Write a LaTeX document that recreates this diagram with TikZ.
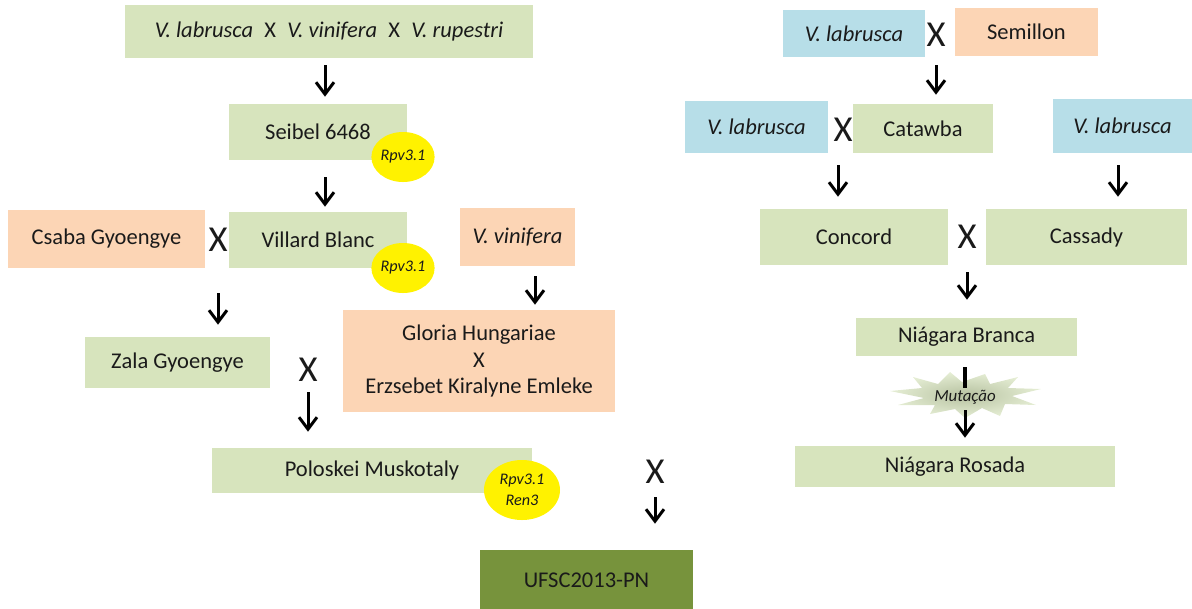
\documentclass[tikz,border=0pt]{standalone}
\usepackage{fontspec}
\setmainfont{Carlito}
\usepackage{tikz}
\usetikzlibrary{arrows.meta,shapes.geometric}
\definecolor{grn}{HTML}{D7E4BD}
\definecolor{peach}{HTML}{FCD5B5}
\definecolor{blu}{HTML}{B7DEE8}
\definecolor{dkgrn}{HTML}{77933C}
\definecolor{ink}{HTML}{1A1A1A}
\tikzset{
	box/.style={inner sep=0pt, text=ink, font=\fontsize{16}{19}\selectfont, align=center},
	gbox/.style={box, fill=grn},
	obox/.style={box, fill=peach},
	bbox/.style={box, fill=blu},
	gene/.style={ellipse, fill=yellow, inner sep=0pt, text=ink, font=\fontsize{11.5}{15}\selectfont\itshape, align=center},
	cross/.style={inner sep=0pt, text=ink, font=\fontsize{26}{28}\selectfont},
	arr/.style={line width=0.075cm, -{Straight Barb[length=0.3cm,width=0.45cm]}},
}
\begin{document}
\begin{tikzpicture}[x=0.025cm,y=-0.025cm]
				\useasboundingbox (0,0) rectangle (1192,608);
				\node[gbox,minimum width=10.2cm,minimum height=1.325cm] (wild) at (329,31.5) {\textit{V. labrusca}\enspace X\enspace \textit{V. vinifera}\enspace X\enspace \textit{V. rupestri}};
				\node[gbox,minimum width=4.45cm,minimum height=1.4cm] (seibel) at (318,132) {Seibel 6468};
				\node[gene,minimum width=1.5cm,minimum height=1.25cm] (rpvA) at (403,157) {Rpv3.1};
				\node[obox,minimum width=4.925cm,minimum height=1.45cm] (csaba) at (106.5,239) {Csaba Gyoengye};
				\node[cross] (xcv) at (218,240) {X};
				\node[gbox,minimum width=4.45cm,minimum height=1.4cm] (villard) at (318,240) {Villard Blanc};
				\node[gene,minimum width=1.5cm,minimum height=1.25cm] (rpvB) at (403,268) {Rpv3.1};
				\node[obox,minimum width=2.875cm,minimum height=1.45cm] (vinif) at (517.5,237) {\textit{V. vinifera}};
				\node[obox,minimum width=6.8cm,minimum height=2.55cm] (gloria) at (479,361) {Gloria Hungariae\\X\\Erzsebet Kiralyne Emleke};
				\node[gbox,minimum width=4.625cm,minimum height=1.275cm] (zala) at (177.5,362.5) {Zala Gyoengye};
				\node[cross] (xzg) at (308,370) {X};
				\node[gbox,minimum width=8cm,minimum height=1.125cm] (polo) at (372,470.5) {Poloskei Muskotaly};
				\node[gene,minimum width=1.9cm,minimum height=1.5cm] (rpvC) at (522,490) {Rpv3.1\\Ren3};
				\node[cross] (xpn) at (655,472) {X};
				\node[box,fill=dkgrn,minimum width=5.325cm,minimum height=1.5cm] (ufsc) at (586.5,580) {UFSC2013-PN};
				\node[bbox,minimum width=3.55cm,minimum height=1.175cm] (labA) at (854,33.5) {\textit{V. labrusca}};
				\node[cross] (xls) at (936,35) {X};
				\node[obox,minimum width=3.575cm,minimum height=1.2cm] (semillon) at (1026.5,32) {Semillon};
				\node[bbox,minimum width=3.575cm,minimum height=1.3cm] (labB) at (756.5,127) {\textit{V. labrusca}};
				\node[cross] (xlc) at (843,130) {X};
				\node[gbox,minimum width=3.5cm,minimum height=1.225cm] (catawba) at (923,128.5) {Catawba};
				\node[bbox,minimum width=3.475cm,minimum height=1.35cm] (labC) at (1122.5,126) {\textit{V. labrusca}};
				\node[gbox,minimum width=4.7cm,minimum height=1.4cm] (concord) at (854,237) {Concord};
				\node[cross] (xcc) at (967,237) {X};
				\node[gbox,minimum width=5.025cm,minimum height=1.4cm] (cassady) at (1086.5,237) {Cassady};
				\node[gbox,minimum width=5.525cm,minimum height=0.95cm] (branca) at (966.5,337) {Niágara Branca};
				\shade[inner color=grn!85!black, outer color=grn!65!white] (890,391) -- (922,388) -- (913,377) -- (938,384) -- (950,372) -- (962,382) -- (985,374) -- (990,384) -- (1018,377) -- (1008,388) -- (1041,389) -- (1012,396) -- (1036,405) -- (1005,404) -- (1000,416) -- (982,408) -- (965,418) -- (955,409) -- (930,414) -- (935,405) -- (898,405) -- (924,398) -- cycle;
				\node[gbox,minimum width=8cm,minimum height=1.025cm] (rosada) at (955,466.5) {Niágara Rosada};
				\coordinate (mutc) at (965,397);
				\draw[line width=0.1cm,shorten <=0.275cm,shorten >=0.225cm] (branca.south -| mutc) -- (mutc);
				\node[inner sep=0pt,text=ink,font=\fontsize{12}{14}\selectfont\itshape] (mut) at (mutc) {Mutação};
				\draw[arr,shorten <=0.175cm,shorten >=0.175cm] ([xshift=0.175cm]seibel.north |- wild.south) -- ([xshift=0.175cm]seibel.north);
				\draw[arr,shorten <=0.425cm,shorten >=0.125cm] ([xshift=0.175cm]villard.north |- seibel.south) -- ([xshift=0.175cm]villard.north);
				\draw[arr,shorten <=1.325cm,shorten >=0.3cm] (xcv.center) -- (xcv |- zala.north);
				\draw[arr,shorten <=0.25cm,shorten >=0.125cm] ([xshift=0.4375cm]vinif.south) -- ([xshift=0.4375cm]vinif.south |- gloria.north);
				\draw[arr,shorten <=0.55cm,shorten >=0.4cm] (xzg.center) -- (xzg |- polo.north);
				\draw[arr,shorten <=0.625cm,shorten >=0.65cm] (xpn.center) -- (xpn |- ufsc.north);
				\draw[arr,shorten <=0.75cm,shorten >=0.225cm] (xls.center) -- (xls |- catawba.north);
				\draw[arr,shorten <=0.875cm,shorten >=0.3cm] ([xshift=-0.125cm]xlc.center) -- ([xshift=-0.125cm]xlc |- concord.north);
				\draw[arr,shorten <=0.3cm,shorten >=0.3cm] ([xshift=-0.1125cm]labC.south) -- ([xshift=-0.1125cm]labC.south |- cassady.north);
				\draw[arr,shorten <=0.875cm,shorten >=0.45cm] (xcc.center) -- (xcc |- branca.north);
				\draw[arr,shorten <=0.325cm,shorten >=0.2cm] (mut.center) -- (mut |- rosada.north);
			\end{tikzpicture}
\end{document}
